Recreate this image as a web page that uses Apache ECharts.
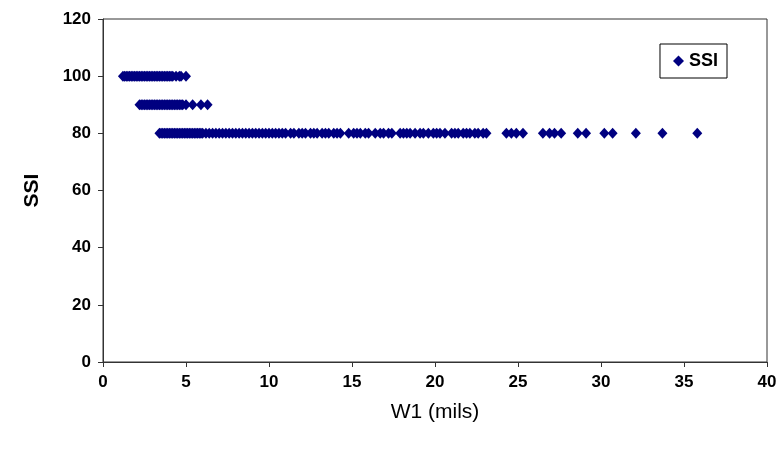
<!DOCTYPE html>
<html>
<head>
<meta charset="utf-8">
<script src="https://cdn.jsdelivr.net/npm/echarts@6/dist/echarts.min.js"></script>
<style>
  html, body { margin: 0; padding: 0; background: #fff; }
  #chart { width: 780px; height: 452px; }
</style>
</head>
<body>
<div id="chart"></div>
<script>
// W1 (mils) readings, grouped by SSI level
const w1At100 = [1.2, 1.3, 1.4, 1.5, 1.6, 1.7, 1.8, 1.9, 2.0, 2.1, 2.2, 2.3, 2.4, 2.5, 2.6, 2.7,
    2.8, 2.9, 3.0, 3.1, 3.2, 3.3, 3.4, 3.5, 3.6, 3.7, 3.8, 3.9, 4.0, 4.1, 4.2, 4.4, 4.6, 4.7, 5.0];
const w1At90 = [2.2, 2.3, 2.4, 2.5, 2.6, 2.7, 2.8, 2.9, 3.0, 3.1, 3.2, 3.3, 3.4, 3.5, 3.6, 3.7,
    3.8, 3.9, 4.0, 4.1, 4.2, 4.3, 4.4, 4.5, 4.6, 4.7, 4.8, 5.0, 5.4, 5.9, 6.3];
const w1At80 = [3.4, 3.5, 3.6, 3.7, 3.8, 3.9, 4.0, 4.1, 4.2, 4.3, 4.4, 4.5, 4.6, 4.7, 4.8, 4.9,
    5.0, 5.1, 5.2, 5.3, 5.4, 5.5, 5.6, 5.7, 5.8, 5.9, 6.0, 6.2, 6.4, 6.6, 6.8, 7.0, 7.2, 7.4,
    7.6, 7.8, 8.0, 8.2, 8.4, 8.6, 8.8, 9.0, 9.2, 9.4, 9.6, 9.8, 10.0, 10.2, 10.4, 10.6, 10.8,
    11.0, 11.3, 11.5, 11.8, 12.0, 12.2, 12.5, 12.7, 12.9, 13.2, 13.4, 13.6, 13.9, 14.1, 14.3,
    14.8, 15.1, 15.3, 15.5, 15.8, 16.0, 16.4, 16.7, 16.9, 17.2, 17.4, 17.9, 18.1, 18.3, 18.5,
    18.8, 19.1, 19.3, 19.6, 19.9, 20.1, 20.3, 20.6, 21.0, 21.2, 21.4, 21.7, 21.9, 22.1, 22.4,
    22.6, 22.9, 23.1, 24.3, 24.6, 24.9, 25.3, 26.5, 26.9, 27.2, 27.6, 28.6, 29.1, 30.2,
    30.7, 32.1, 33.7, 35.8];
const ssiLevels = [100, 90, 80];

const xTicks = { min: 0, max: 40, interval: 5 };
const yTicks = { min: 0, max: 120, interval: 20 };

const points = [];
[w1At100, w1At90, w1At80].forEach((xs, i) => {
    xs.forEach((x) => points.push([x, ssiLevels[i]]));
});

const chart = echarts.init(document.getElementById("chart"));
const font = "'Liberation Sans', Arial, sans-serif";

chart.setOption({
    backgroundColor: "#fff",
    animation: false,
    grid: {
        left: 103, right: 13, top: 19, bottom: 90,
        show: true, borderColor: "#333", borderWidth: 1,
    },
    legend: {
        data: ["SSI"],
        right: 53, top: 44,
        orient: "vertical",
        borderColor: "#000",
        borderWidth: 1,
        padding: [8, 9, 8, 13],
        itemWidth: 11, itemHeight: 11,
        itemGap: 4,
        textStyle: { fontFamily: font, fontWeight: "bold", fontSize: 18, color: "#000" },
    },
    xAxis: {
        type: "value",
        ...xTicks,
        name: "W1 (mils)",
        nameLocation: "middle",
        nameGap: 40,
        nameTextStyle: { fontFamily: font, fontSize: 21, color: "#000" },
        axisLine: { lineStyle: { color: "#333" } },
        axisTick: { show: true, length: 5, lineStyle: { color: "#333" } },
        axisLabel: { fontFamily: font, fontWeight: "bold", fontSize: 17, color: "#000", margin: 12 },
        splitLine: { show: false },
    },
    yAxis: {
        type: "value",
        ...yTicks,
        name: "SSI",
        nameLocation: "middle",
        nameGap: 60,
        nameTextStyle: { fontFamily: font, fontWeight: "bold", fontSize: 21, color: "#000" },
        axisLine: { show: true, lineStyle: { color: "#333" } },
        axisTick: { show: true, length: 5, lineStyle: { color: "#333" } },
        axisLabel: { fontFamily: font, fontWeight: "bold", fontSize: 17, color: "#000", margin: 12 },
        splitLine: { show: false },
    },
    series: [{
        name: "SSI",
        type: "scatter",
        symbol: "diamond",
        symbolSize: [10, 11],
        itemStyle: { color: "#000080", opacity: 1 },
        data: points,
    }],
});
</script>
</body>
</html>
